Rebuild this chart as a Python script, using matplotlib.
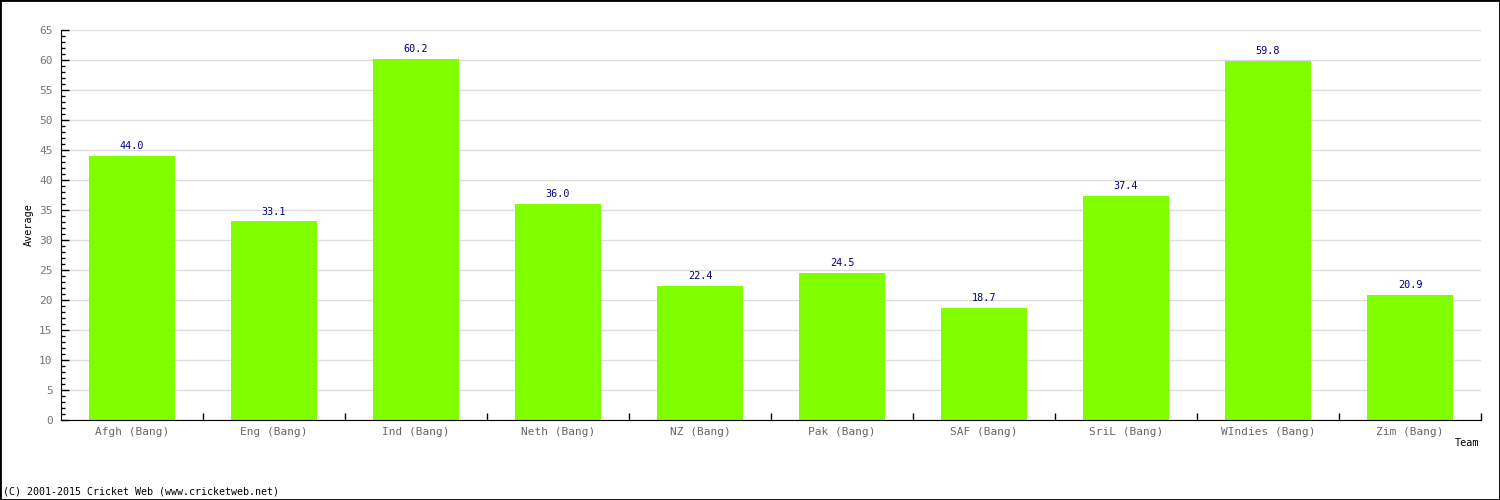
import matplotlib.pyplot as plt
from matplotlib.ticker import MultipleLocator, FixedLocator
from matplotlib.patches import Rectangle

teams = ["Afgh (Bang)", "Eng (Bang)", "Ind (Bang)", "Neth (Bang)", "NZ (Bang)",
         "Pak (Bang)", "SAF (Bang)", "SriL (Bang)", "WIndies (Bang)", "Zim (Bang)"]
averages = [44.0, 33.1, 60.2, 36.0, 22.4, 24.5, 18.7, 37.4, 59.8, 20.9]

plt.rcParams['font.family'] = 'DejaVu Sans Mono'

fig = plt.figure(figsize=(15, 5), dpi=100)
ax = fig.add_axes([61 / 1500, 80 / 500, 1420 / 1500, 390 / 500])

x = list(range(len(teams)))
ax.bar(x, averages, width=0.6, color="#80ff00", zorder=2)
for xi, v in zip(x, averages):
    ax.text(xi, v + 0.8, f"{v:.1f}", ha="center", va="bottom",
            fontsize=7.3, color="#000080")

ax.set_xlim(-0.5, len(teams) - 0.5)
ax.set_ylim(0, 65)
ax.yaxis.set_major_locator(MultipleLocator(5))
ax.yaxis.set_minor_locator(MultipleLocator(1))
ax.grid(axis="y", color="#dddddd", linewidth=1, zorder=0)

ax.set_xticks(x)
ax.set_xticklabels(teams)
ax.xaxis.set_minor_locator(FixedLocator([i + 0.5 for i in range(len(teams))]))
ax.tick_params(axis="x", which="major", length=0, labelsize=8, labelcolor="#666666", pad=5)
ax.tick_params(axis="x", which="minor", direction="in", length=5, width=1)
ax.tick_params(axis="y", which="major", direction="in", length=6, width=1,
               labelsize=8, labelcolor="#777777", pad=6)
ax.tick_params(axis="y", which="minor", direction="in", length=3, width=1)

for side in ["top", "right"]:
    ax.spines[side].set_visible(False)

ax.set_ylabel("Average", fontsize=7.3)
ax.yaxis.set_label_coords(-0.0190, 0.5)
fig.text(1479 / 1500, 1 - 443 / 500, "Team", ha="right", va="center", fontsize=7.3)
fig.text(3 / 1500, 1 - 492 / 500, "(C) 2001-2015 Cricket Web (www.cricketweb.net)",
         ha="left", va="center", fontsize=7.2)

fig.patches.append(Rectangle((0, 0), 1, 1, transform=fig.transFigure,
                             fill=False, edgecolor="black", linewidth=2))

fig.savefig("out.png", dpi=100)
